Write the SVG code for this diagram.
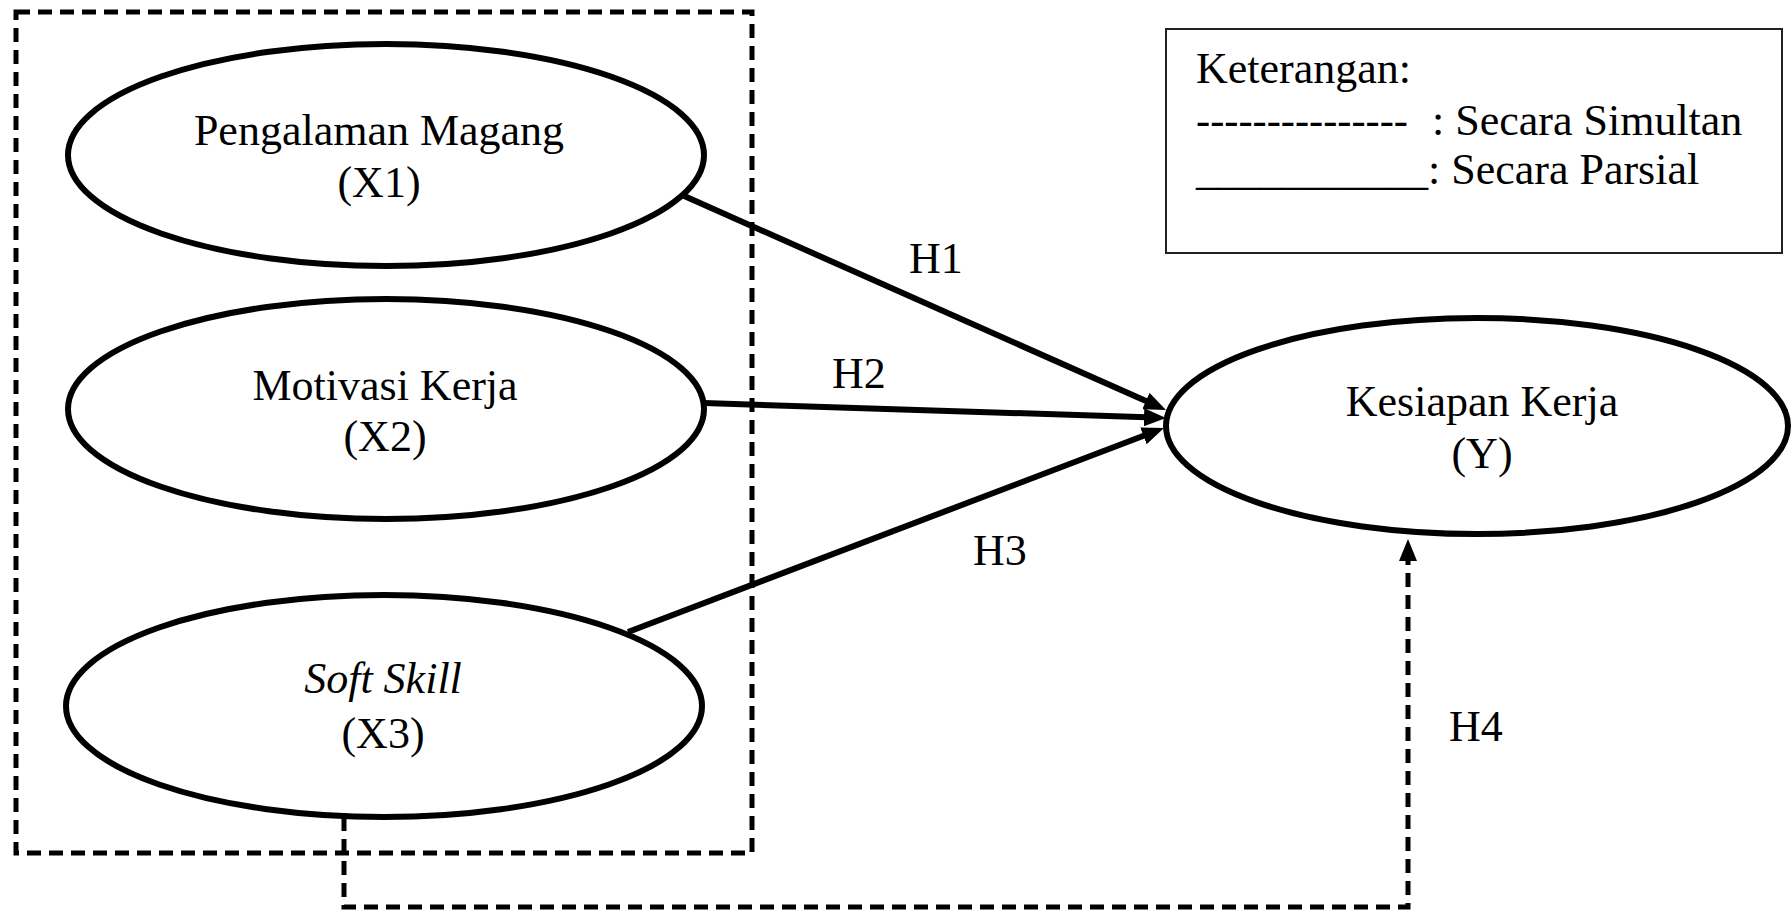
<svg xmlns="http://www.w3.org/2000/svg" width="1791" height="913" viewBox="0 0 1791 913">
<style>
text{font-family:'Liberation Serif','Times New Roman','DejaVu Serif',serif;font-size:44px;fill:#000}
.c{text-anchor:middle}
.node{fill:#fff;stroke:#000;stroke-width:6}
.solid{fill:none;stroke:#000;stroke-width:6}
.dash{fill:none;stroke:#000;stroke-width:5;stroke-dasharray:14 8}
</style>
<defs>
<marker id="ah" viewBox="0 0 22 18" refX="10" refY="9" markerWidth="22" markerHeight="18" markerUnits="userSpaceOnUse" orient="auto">
<path d="M0,0 L22,9 L0,18 z" fill="#000"/>
</marker>
</defs>
<rect width="1791" height="913" fill="#fff"/>
<g id="group-box">
<rect x="16" y="12" width="736" height="841" class="dash"/>
</g>
<g id="x1">
<ellipse cx="386" cy="155" rx="318" ry="111" class="node"/>
<text x="379" y="145" class="c">Pengalaman Magang</text>
<text x="379" y="197" class="c">(X1)</text>
</g>
<g id="x2">
<ellipse cx="386" cy="409" rx="318" ry="110" class="node"/>
<text x="385" y="400" class="c">Motivasi Kerja</text>
<text x="385" y="451" class="c">(X2)</text>
</g>
<g id="x3">
<ellipse cx="384" cy="706" rx="318" ry="111" class="node"/>
<text x="383" y="693" class="c" font-style="italic">Soft Skill</text>
<text x="383" y="748" class="c">(X3)</text>
</g>
<g id="y">
<ellipse cx="1477" cy="426" rx="311" ry="108" class="node"/>
<text x="1482" y="416" class="c">Kesiapan Kerja</text>
<text x="1482" y="468" class="c">(Y)</text>
</g>
<g id="connectors">
<line x1="682" y1="195" x2="1155" y2="405.1" class="solid" marker-end="url(#ah)"/>
<line x1="704" y1="403" x2="1154" y2="417.6" class="solid" marker-end="url(#ah)"/>
<line x1="628" y1="632" x2="1152.8" y2="432.3" class="solid" marker-end="url(#ah)"/>
<path d="M344,817 V907 H1408 V551" class="dash" marker-end="url(#ah)"/>
<text x="909" y="273">H1</text>
<text x="832" y="388">H2</text>
<text x="973" y="565">H3</text>
<text x="1449" y="741">H4</text>
</g>
<g id="legend">
<rect x="1166" y="29" width="616" height="224" fill="none" stroke="#222" stroke-width="2"/>
<text x="1196" y="83">Keterangan:</text>
<text x="1196" y="135" textLength="212" lengthAdjust="spacingAndGlyphs">---------------</text>
<text x="1432" y="135">: Secara Simultan</text>
<text x="1196" y="184" textLength="232" lengthAdjust="spacingAndGlyphs">___________</text>
<text x="1428" y="184">: Secara Parsial</text>
</g>
</svg>
